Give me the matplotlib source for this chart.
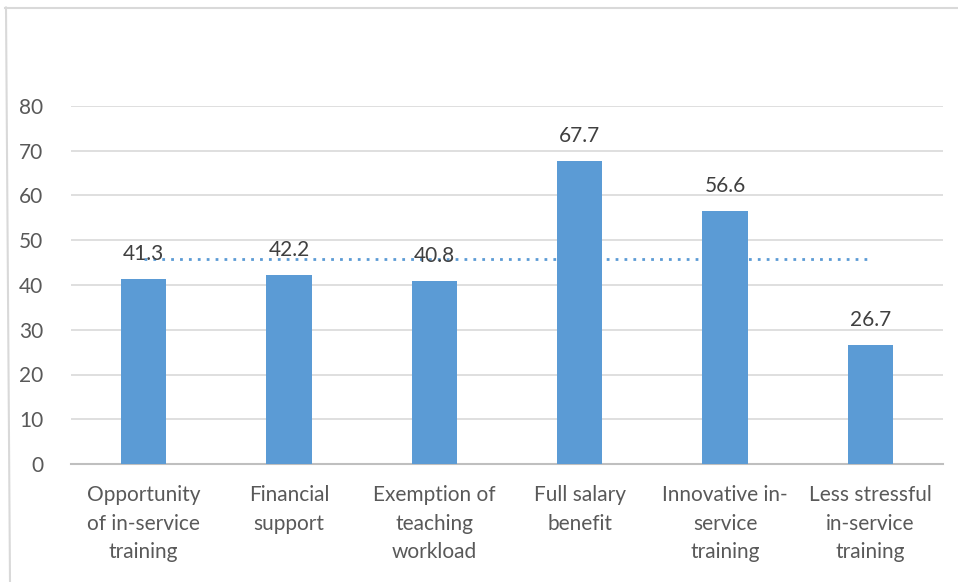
import matplotlib.pyplot as plt
from matplotlib.lines import Line2D

plt.rcParams['font.family'] = ['Lato', 'DejaVu Sans']

categories = ["Opportunity\nof in-service\ntraining", "Financial\nsupport",
              "Exemption of\nteaching\nworkload", "Full salary\nbenefit",
              "Innovative in-\nservice\ntraining", "Less stressful\nin-service\ntraining"]
values = [41.3, 42.2, 40.8, 67.7, 56.6, 26.7]
average = sum(values) / len(values)

bar_color = "#5B9BD5"
text_color = "#595959"

W, H = 958, 582
fig = plt.figure(figsize=(W / 100, H / 100), dpi=100)
ax = fig.add_axes([71 / W, (H - 464) / H, 872 / W, (464 - 106) / H])

x = list(range(len(values)))
ax.bar(x, values, width=0.31, color=bar_color, zorder=3)
ax.plot([x[0], x[-1]], [average, average], linestyle=(0, (1, 2.2)),
        color=bar_color, linewidth=2, zorder=4)

for xi, v in zip(x, values):
    ax.annotate(f"{v}", (xi, v), xytext=(0, 18), textcoords="offset points",
                ha="center", va="center", fontsize=15, color="#404040", zorder=5)

ax.set_xlim(-0.5, len(values) - 0.5)
ax.set_ylim(0, 80)
ax.set_yticks(range(0, 81, 10))
ax.set_xticks(x)
ax.set_xticklabels(categories, fontsize=15, color=text_color, linespacing=1.55)
ax.tick_params(axis="y", length=0, pad=20, labelsize=15, labelcolor=text_color)
ax.tick_params(axis="x", length=0, pad=15)
ax.grid(axis="y", color="#D9D9D9", linewidth=1.2, zorder=0)
for s in ["left", "right", "top"]:
    ax.spines[s].set_visible(False)
ax.spines["bottom"].set_color("#BFBFBF")
ax.spines["bottom"].set_linewidth(1.5)

# chart frame
fig.add_artist(Line2D([5 / W, 1], [1 - 7.5 / H, 1 - 7.5 / H], color="#D9D9D9", linewidth=1.5))
fig.add_artist(Line2D([6 / W, 10 / W], [1 - 7.5 / H, 0], color="#D9D9D9", linewidth=1.5))

fig.savefig("out.png", dpi=100, facecolor="white")
